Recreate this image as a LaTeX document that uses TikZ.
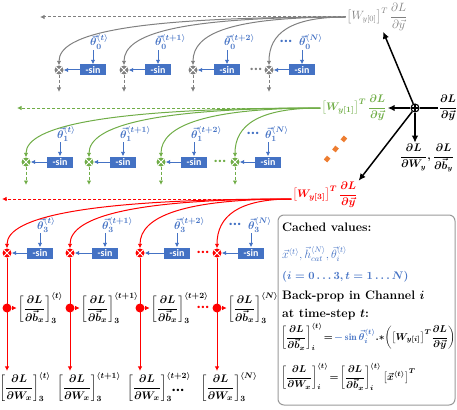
\documentclass[tikz,border=0pt]{standalone}
\usepackage{amsmath,amssymb}
\usepackage{bm}
\usepackage{fontspec}
\newfontfamily\sinfont{Carlito}
\usetikzlibrary{positioning,arrows.meta}

\definecolor{cblue}{HTML}{4472C4}
\definecolor{cgreen}{HTML}{70AD47}
\definecolor{cgray}{HTML}{808080}
\definecolor{corange}{HTML}{ED7D31}
\definecolor{cred}{HTML}{FF0000}

\newcommand{\tstep}[1]{\langle #1\rangle}
\newcommand{\dpart}[2]{\dfrac{\partial #1}{\partial #2}}
\newcommand{\rowdots}{\raisebox{0.22em}{\sinfont\bfseries\fontsize{16}{16}\selectfont...}}

\begin{document}
\begin{tikzpicture}[
      x=1pt, y=1pt,
      >={Latex[length=4.5pt,width=4.5pt]},
      mul/.style  = {circle, fill=#1, minimum size=9pt, inner sep=0pt,
                     path picture={\draw[white, line width=0.9pt]
                       (path picture bounding box.north west) -- (path picture bounding box.south east)
                       (path picture bounding box.north east) -- (path picture bounding box.south west);}},
      sumn/.style = {circle, draw, line width=1.1pt, fill=white, minimum size=8pt, inner sep=0pt,
                     path picture={\draw[line width=1.1pt]
                       (path picture bounding box.north) -- (path picture bounding box.south)
                       (path picture bounding box.east) -- (path picture bounding box.west);}},
      sn/.style   = {fill=cblue, text=white, minimum width=26pt, minimum height=11pt, inner sep=0pt,
                     font=\sinfont\bfseries\fontsize{10}{10}\selectfont},
      th/.style   = {text=cblue, anchor=base west, inner sep=1pt, font=\fontsize{11}{12}\selectfont\boldmath},
      dts/.style  = {text=#1, inner sep=0pt},
      gl/.style   = {text=#1, inner sep=1pt, font=\fontsize{11.5}{13}\selectfont},
      gb/.style   = {text=#1, inner sep=1pt, font=\fontsize{11}{13}\selectfont\boldmath},
      jn/.style   = {circle, fill=cred, minimum size=9pt, inner sep=0pt},
      tx/.style   = {anchor=west, inner sep=0pt, font=\fontsize{12.3}{14}\selectfont\bfseries},
      eq/.style   = {anchor=west, inner sep=0pt, font=\fontsize{9.6}{11}\selectfont\boldmath},
      br/.style   = {#1, line width=1pt, ->},
      dl/.style   = {#1, line width=1pt, dash pattern=on 3pt off 2pt, ->},
      ba/.style   = {cblue, line width=1pt, ->},
      ka/.style   = {black, line width=1.5pt, -{Latex[length=7pt,width=6.5pt]}},
    ]
    \useasboundingbox (0,0) rectangle (457,-409);

    % channel 0
    \node[gl=cgray] (g0) at (377,-17) {$\left[W_{y[0]}\right]^T\dpart{L}{\vec{y}}$};
    \coordinate (e0) at (40,-17);
    \node[mul=cgray] (m0a) at (59,-70) {};
    \node[mul=cgray] (m0b) at (124,-70) {};
    \node[mul=cgray] (m0c) at (193,-70) {};
    \node[mul=cgray] (m0d) at (269,-70) {};
    \node[sn] (s0a) at (93,-70) {-sin};
    \node[sn] (s0b) at (158,-70) {-sin};
    \node[sn] (s0c) at (227,-70) {-sin};
    \node[sn] (s0d) at (302,-70) {-sin};
    \node[th] (t0a) at (89,-46) {$\vec{\theta}_0^{\tstep{t}}$};
    \node[th] (t0b) at (154,-46) {$\vec{\theta}_0^{\tstep{t+1}}$};
    \node[th] (t0c) at (223,-46) {$\vec{\theta}_0^{\tstep{t+2}}$};
    \node[th] (t0d) at (298,-46) {$\vec{\theta}_0^{\tstep{N}}$};
    \node[dts=cblue] (p0) at (286,-42) {\rowdots};
    \node[dts=cgray] (q0) at (256,-70) {\rowdots};
    \coordinate (o0a) at (59,-92); \coordinate (o0b) at (124,-92);
    \coordinate (o0c) at (193,-92); \coordinate (o0d) at (269,-92);
    \draw[dl=cgray] (g0.west) -- (e0);
    \draw[br=cgray] (g0.west) to[out=180, in=90, out distance=215pt, in distance=32pt] (m0a);
    \draw[br=cgray] (g0.west) to[out=180, in=90, out distance=165pt, in distance=32pt] (m0b);
    \draw[br=cgray] (g0.west) to[out=180, in=90, out distance=115pt, in distance=32pt] (m0c);
    \draw[br=cgray] (g0.west) to[out=180, in=90, out distance=55pt, in distance=32pt] (m0d);
    \draw[ba] (t0a.south -| s0a) -- (s0a); \draw[ba] (s0a) -- (m0a);
    \draw[ba] (t0b.south -| s0b) -- (s0b); \draw[ba] (s0b) -- (m0b);
    \draw[ba] (t0c.south -| s0c) -- (s0c); \draw[ba] (s0c) -- (m0c);
    \draw[ba] (t0d.south -| s0d) -- (s0d); \draw[ba] (s0d) -- (m0d);
    \draw[dl=cgray] (m0a) -- (o0a); \draw[dl=cgray] (m0b) -- (o0b);
    \draw[dl=cgray] (m0c) -- (o0c); \draw[dl=cgray] (m0d) -- (o0d);

    % channel 1
    \node[gb=cgreen] (g1) at (354,-108) {$\left[W_{y[1]}\right]^T\dpart{L}{\vec{y}}$};
    \coordinate (e1) at (17,-108);
    \node[mul=cgreen] (m1a) at (26,-162) {};
    \node[mul=cgreen] (m1b) at (89,-162) {};
    \node[mul=cgreen] (m1c) at (161,-162) {};
    \node[mul=cgreen] (m1d) at (235,-162) {};
    \node[sn] (s1a) at (60,-162) {-sin};
    \node[sn] (s1b) at (123,-162) {-sin};
    \node[sn] (s1c) at (194,-162) {-sin};
    \node[sn] (s1d) at (268,-162) {-sin};
    \node[th] (t1a) at (56,-138) {$\vec{\theta}_1^{\tstep{t}}$};
    \node[th] (t1b) at (119,-138) {$\vec{\theta}_1^{\tstep{t+1}}$};
    \node[th] (t1c) at (190,-138) {$\vec{\theta}_1^{\tstep{t+2}}$};
    \node[th] (t1d) at (264,-138) {$\vec{\theta}_1^{\tstep{N}}$};
    \node[dts=cblue] (p1) at (253,-134) {\rowdots};
    \node[dts=cgreen] (q1) at (220,-162) {\rowdots};
    \coordinate (o1a) at (26,-185); \coordinate (o1b) at (89,-185);
    \coordinate (o1c) at (161,-185); \coordinate (o1d) at (235,-185);
    \draw[dl=cgreen] (g1.west) -- (e1);
    \draw[br=cgreen] (g1.west) to[out=180, in=90, out distance=208pt, in distance=32pt] (m1a);
    \draw[br=cgreen] (g1.west) to[out=180, in=90, out distance=164pt, in distance=32pt] (m1b);
    \draw[br=cgreen] (g1.west) to[out=180, in=90, out distance=113pt, in distance=32pt] (m1c);
    \draw[br=cgreen] (g1.west) to[out=180, in=90, out distance=62pt, in distance=32pt] (m1d);
    \draw[ba] (t1a.south -| s1a) -- (s1a); \draw[ba] (s1a) -- (m1a);
    \draw[ba] (t1b.south -| s1b) -- (s1b); \draw[ba] (s1b) -- (m1b);
    \draw[ba] (t1c.south -| s1c) -- (s1c); \draw[ba] (s1c) -- (m1c);
    \draw[ba] (t1d.south -| s1d) -- (s1d); \draw[ba] (s1d) -- (m1d);
    \draw[dl=cgreen] (m1a) -- (o1a); \draw[dl=cgreen] (m1b) -- (o1b);
    \draw[dl=cgreen] (m1c) -- (o1c); \draw[dl=cgreen] (m1d) -- (o1d);

    % channel 3
    \node[gb=cred] (g3) at (325,-195) {$\left[W_{y[3]}\right]^T\dpart{L}{\vec{y}}$};
    \coordinate (e3) at (2,-199);
    \node[mul=cred] (m3a) at (7,-253) {};
    \node[mul=cred] (m3b) at (70,-253) {};
    \node[mul=cred] (m3c) at (140,-253) {};
    \node[mul=cred] (m3d) at (217,-253) {};
    \node[sn] (s3a) at (40,-253) {-sin};
    \node[sn] (s3b) at (105,-253) {-sin};
    \node[sn] (s3c) at (177,-253) {-sin};
    \node[sn] (s3d) at (251,-253) {-sin};
    \node[th] (t3a) at (36,-229) {$\vec{\theta}_3^{\tstep{t}}$};
    \node[th] (t3b) at (101,-229) {$\vec{\theta}_3^{\tstep{t+1}}$};
    \node[th] (t3c) at (173,-229) {$\vec{\theta}_3^{\tstep{t+2}}$};
    \node[th] (t3d) at (247,-229) {$\vec{\theta}_3^{\tstep{N}}$};
    \node[dts=cblue] (p3) at (235,-225) {\rowdots};
    \node[dts=cred] (q3) at (203,-253) {\rowdots};
    \draw[dl=cred] (g3.west |- e3) -- (e3);
    \draw[br=cred] (g3.west |- e3) to[out=180, in=90, out distance=200pt, in distance=32pt] (m3a);
    \draw[br=cred] (g3.west |- e3) to[out=180, in=90, out distance=156pt, in distance=32pt] (m3b);
    \draw[br=cred] (g3.west |- e3) to[out=180, in=90, out distance=107pt, in distance=32pt] (m3c);
    \draw[br=cred] (g3.west |- e3) to[out=180, in=90, out distance=53pt, in distance=32pt] (m3d);
    \draw[ba] (t3a.south -| s3a) -- (s3a); \draw[ba] (s3a) -- (m3a);
    \draw[ba] (t3b.south -| s3b) -- (s3b); \draw[ba] (s3b) -- (m3b);
    \draw[ba] (t3c.south -| s3c) -- (s3c); \draw[ba] (s3c) -- (m3c);
    \draw[ba] (t3d.south -| s3d) -- (s3d); \draw[ba] (s3d) -- (m3d);

    % gradients of channel 3
    \node[jn] (d3a) at (7,-308) {};
    \node[jn] (d3b) at (70,-308) {};
    \node[jn] (d3c) at (140,-308) {};
    \node[jn] (d3d) at (217,-308) {};
    \node[gb=black, right=5pt of d3a] (b3a) {$\left[\dpart{L}{\vec{b}_x}\right]_3^{\tstep{t}}$};
    \node[gb=black, right=5pt of d3b] (b3b) {$\left[\dpart{L}{\vec{b}_x}\right]_3^{\tstep{t+1}}$};
    \node[gb=black, right=5pt of d3c] (b3c) {$\left[\dpart{L}{\vec{b}_x}\right]_3^{\tstep{t+2}}$};
    \node[gb=black, right=5pt of d3d] (b3d) {$\left[\dpart{L}{\vec{b}_x}\right]_3^{\tstep{N}}$};
    \node[dts=cred] (q3b) at (203,-308) {\rowdots};
    \node[gb=black] (w3a) at (25,-387) {$\left[\dpart{L}{W_x}\right]_3^{\tstep{t}}$};
    \node[gb=black] (w3b) at (89,-387) {$\left[\dpart{L}{W_x}\right]_3^{\tstep{t+1}}$};
    \node[gb=black] (w3c) at (159,-387) {$\left[\dpart{L}{W_x}\right]_3^{\tstep{t+2}}$};
    \node[gb=black] (w3d) at (229,-387) {$\left[\dpart{L}{W_x}\right]_3^{\tstep{N}}$};
    \node[dts=black] (q3c) at (178,-391) {\rowdots};
    \draw[br=cred] (m3a) -- (w3a.north -| m3a); \draw[br=cred] (d3a) -- (b3a);
    \draw[br=cred] (m3b) -- (w3b.north -| m3b); \draw[br=cred] (d3b) -- (b3b);
    \draw[br=cred] (m3c) -- (w3c.north -| m3c); \draw[br=cred] (d3c) -- (b3c);
    \draw[br=cred] (m3d) -- (w3d.north -| m3d); \draw[br=cred] (d3d) -- (b3d);

    % output gradient
    \node[sumn] (pl) at (415,-108) {};
    \node[gb=black] (dy) at (448,-108) {$\dpart{L}{\vec{y}}$};
    \node[gb=black, font=\fontsize{10.5}{12}\selectfont\boldmath] (wy) at (427,-158) {$\dpart{L}{W_y},\dpart{L}{\vec{b}_y}$};
    \draw[black, line width=1.5pt] (dy) -- (pl);
    \draw[ka] (pl) -- (g0);
    \draw[ka] (pl) -- (g1.east);
    \draw[ka] (pl) -- (g3.north east);
    \draw[ka] (pl) -- (pl |- wy.north);
    \draw[corange, line width=4.5pt, dash pattern=on 5pt off 8.1pt] (345.5,-137) -- (325.5,-161);

    % cached values
    \node[draw=cgray!80, rounded corners=6pt, line width=1pt, minimum width=177pt, minimum height=190pt] (cache) at (366.5,-310) {};
    \node[tx] (c1) at (282,-227) {Cached values:};
    \node[tx, text=cblue, font=\fontsize{12}{14}\selectfont] (c2) at (282,-254) {$\vec{x}^{\tstep{t}},\vec{h}_{cat}^{\tstep{N}},\vec{\theta}_i^{\tstep{t}}$};
    \node[tx, text=cblue, font=\fontsize{11}{13}\selectfont\boldmath] (c3) at (282,-277) {$(i=0\ldots3, t=1\ldots N)$};
    \node[tx] (c4) at (282,-296) {Back-prop in Channel $\bm{i}$};
    \node[tx] (c5) at (282,-315) {at time-step $\bm{t}$:};
    \node[eq] (c6) at (281,-337) {$\thickmuskip=2mu\left[\dpart{L}{\vec{b}_x}\right]_i^{\tstep{t}}={\color{cblue}-\sin\vec{\theta}_i^{\tstep{t}}}.{*}\!\left(\left[W_{y[i]}\right]^T\!\dpart{L}{\vec{y}}\right)$};
    \node[eq] (c7) at (281,-377) {$\thickmuskip=2mu\left[\dpart{L}{W_x}\right]_i^{\tstep{t}}=\left[\dpart{L}{\vec{b}_x}\right]_i^{\tstep{t}}\left[\vec{x}^{\tstep{t}}\right]^T$};
  \end{tikzpicture}
\end{document}
